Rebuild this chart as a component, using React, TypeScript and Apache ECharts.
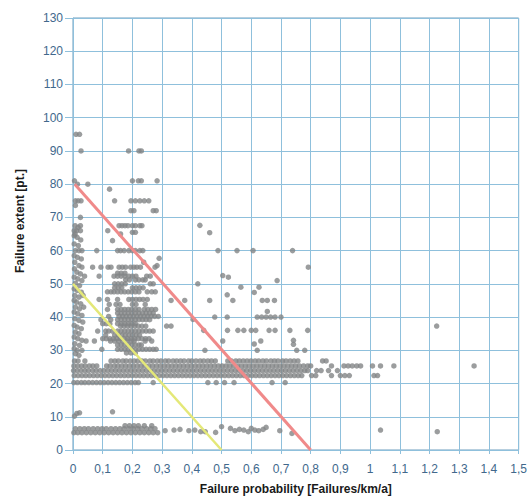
import React, { useEffect, useRef } from "react";
import * as echarts from "echarts";

// Axis ranges / ticks
const xTicks = { min: 0, max: 1.5, step: 0.1 };
const yTicks = { min: 0, max: 130, step: 10 };

// Threshold lines
const redLine: [number, number][] = [[0.006, 80], [0.8, 0]];
const yellowLine: [number, number][] = [[0, 50], [0.5, 0]];

// Dense horizontal band of points (y, x-values)
const bandRows: [number, number[]][] = [
  [26.8, [0.005, 0.017, 0.04, 0.128, 0.141, 0.153, 0.168, 0.179, 0.193, 0.206, 0.218, 0.232, 0.244, 0.259, 0.27, 0.284, 0.296, 0.311, 0.322, 0.337, 0.349, 0.362, 0.374, 0.389, 0.4, 0.414, 0.428, 0.44, 0.454, 0.466, 0.479, 0.521, 0.533, 0.548, 0.56, 0.573, 0.586, 0.599, 0.613, 0.625, 0.639, 0.651, 0.666, 0.678, 0.69, 0.705, 0.717, 0.731, 0.744, 0.757, 0.84, 0.852]],
  [25.3, [0.003, 0.016, 0.029, 0.041, 0.055, 0.067, 0.08, 0.113, 0.125, 0.139, 0.151, 0.164, 0.177, 0.19, 0.203, 0.216, 0.229, 0.242, 0.255, 0.268, 0.281, 0.294, 0.307, 0.32, 0.333, 0.346, 0.359, 0.372, 0.385, 0.398, 0.411, 0.424, 0.437, 0.45, 0.463, 0.476, 0.489, 0.502, 0.515, 0.528, 0.541, 0.554, 0.567, 0.58, 0.593, 0.606, 0.619, 0.632, 0.645, 0.658, 0.671, 0.684, 0.697, 0.71, 0.723, 0.736, 0.749, 0.762, 0.776, 0.79, 0.8, 0.87, 0.912, 0.926, 0.94, 0.955, 0.968, 1.008, 1.035, 1.08, 1.35]],
  [23.9, [0.002, 0.014, 0.027, 0.04, 0.052, 0.066, 0.078, 0.091, 0.104, 0.117, 0.13, 0.143, 0.156, 0.169, 0.182, 0.195, 0.208, 0.221, 0.234, 0.247, 0.26, 0.273, 0.286, 0.299, 0.312, 0.325, 0.338, 0.351, 0.364, 0.377, 0.39, 0.403, 0.416, 0.429, 0.442, 0.455, 0.468, 0.481, 0.494, 0.507, 0.52, 0.533, 0.546, 0.559, 0.572, 0.585, 0.598, 0.611, 0.624, 0.637, 0.65, 0.663, 0.676, 0.689, 0.702, 0.715, 0.728, 0.741, 0.754, 0.767, 0.78, 0.79, 0.82, 0.835, 0.86, 0.89]],
  [22.4, [0.004, 0.017, 0.03, 0.043, 0.056, 0.069, 0.082, 0.095, 0.108, 0.121, 0.134, 0.147, 0.16, 0.173, 0.186, 0.199, 0.212, 0.225, 0.238, 0.251, 0.264, 0.277, 0.29, 0.303, 0.316, 0.329, 0.342, 0.355, 0.368, 0.381, 0.394, 0.407, 0.42, 0.433, 0.446, 0.459, 0.472, 0.485, 0.498, 0.511, 0.524, 0.537, 0.55, 0.563, 0.576, 0.589, 0.602, 0.615, 0.628, 0.641, 0.654, 0.667, 0.68, 0.693, 0.706, 0.719, 0.732, 0.745, 0.758, 0.77, 0.803, 0.817, 0.87, 0.9, 0.915, 0.93, 1.013, 1.025]],
  [20.3, [0.003, 0.015, 0.028, 0.04, 0.053, 0.066, 0.079, 0.092, 0.105, 0.118, 0.131, 0.144, 0.157, 0.17, 0.183, 0.196, 0.209, 0.22, 0.27, 0.454, 0.482, 0.51, 0.542, 0.67, 0.714]],
];

// Cluster of points left of x = 0.3 (y, x-values)
const clusterRows: [number, number[]][] = [
  [60, [0.08, 0.15, 0.16, 0.172, 0.188, 0.2, 0.21, 0.225, 0.235]],
  [57.7, [0.29]],
  [56.5, [0.238]],
  [55.5, [0.283]],
  [55, [0.066, 0.094, 0.118, 0.128, 0.155, 0.166, 0.177, 0.194, 0.205, 0.215, 0.227, 0.276]],
  [53.2, [0.15, 0.162, 0.175]],
  [52.3, [0.039, 0.088, 0.138, 0.15, 0.162, 0.175, 0.188, 0.2, 0.212, 0.248, 0.26]],
  [51.2, [0.177, 0.19, 0.21, 0.222, 0.235, 0.243]],
  [50, [0.14, 0.152, 0.164, 0.176, 0.26, 0.27]],
  [48.8, [0.14, 0.152, 0.164, 0.2, 0.212, 0.224, 0.236]],
  [47.6, [0.116, 0.128, 0.138, 0.15, 0.162, 0.174, 0.186, 0.198, 0.21, 0.222, 0.25, 0.265, 0.277]],
  [45.3, [0.088, 0.116, 0.15, 0.188, 0.2, 0.212, 0.224, 0.236, 0.25]],
  [43.8, [0.122, 0.145, 0.158, 0.2, 0.212, 0.243]],
  [42.3, [0.116, 0.15, 0.162, 0.174, 0.186, 0.198, 0.21, 0.222, 0.24, 0.252, 0.265, 0.278]],
  [41.2, [0.15, 0.162, 0.174, 0.186, 0.198, 0.21, 0.222, 0.234, 0.246, 0.258, 0.27]],
  [40.2, [0.12, 0.155, 0.167, 0.179, 0.191, 0.203, 0.215, 0.227, 0.239, 0.251, 0.263, 0.275, 0.287]],
  [39.2, [0.094, 0.127, 0.15, 0.162, 0.174, 0.186, 0.198, 0.21, 0.222, 0.234, 0.246, 0.258]],
  [38, [0.1, 0.112, 0.124, 0.15, 0.162, 0.174, 0.186, 0.198, 0.21]],
  [37.3, [0.16, 0.172, 0.184, 0.196, 0.208, 0.22, 0.232, 0.245, 0.315, 0.33]],
  [35.8, [0.083, 0.11, 0.12, 0.133, 0.15, 0.162, 0.174, 0.186, 0.198, 0.21, 0.222, 0.234, 0.246, 0.258, 0.27]],
  [34.6, [0.11, 0.14, 0.152, 0.164, 0.176, 0.188, 0.2, 0.212, 0.224]],
  [33.5, [0.1, 0.112, 0.124, 0.136, 0.148, 0.16, 0.172, 0.184, 0.196, 0.208, 0.22, 0.232, 0.244, 0.256]],
  [32.8, [0.044, 0.072, 0.126, 0.14, 0.154, 0.168, 0.182, 0.196, 0.206, 0.243, 0.265]],
  [31.6, [0.15, 0.162, 0.174, 0.186, 0.198, 0.21, 0.222, 0.23]],
  [30.3, [0.097, 0.15, 0.162, 0.174, 0.186, 0.198, 0.21, 0.222, 0.234, 0.246, 0.258, 0.27, 0.28]],
  [29.2, [0.18, 0.195, 0.21]],
];

// Column of points close to x = 0
const columnNearZero: [number, number][] = [
  [0.01, 95], [0.022, 95], [0.027, 90], [0.005, 81], [0.015, 80], [0.05, 80],
  [0.008, 75], [0.017, 75], [0.027, 75], [0.008, 73.6], [0.025, 70],
  [0.007, 67.5], [0.017, 67], [0.025, 67.5], [0.004, 66], [0.012, 66], [0.025, 66], [0.007, 65],
  [0.004, 64.5], [0.014, 64], [0.026, 63.2], [0.004, 62], [0.018, 61.5], [0.008, 60], [0.02, 60], [0.03, 60],
  [0.004, 58.5], [0.015, 58], [0.028, 57.5], [0.006, 56.5], [0.02, 55.5], [0.03, 55], [0.005, 54.5], [0.013, 53.5], [0.025, 53],
  [0.004, 52], [0.016, 51.5], [0.03, 51], [0.008, 50.2], [0.022, 49.5], [0.004, 48.5], [0.014, 48], [0.028, 47.5],
  [0.006, 46.5], [0.02, 46], [0.034, 46.5], [0.004, 45], [0.012, 44.5], [0.026, 44], [0.008, 43], [0.022, 42.5], [0.036, 43],
  [0.004, 41.5], [0.016, 41], [0.03, 40.5], [0.006, 39.5], [0.02, 39], [0.033, 38.5], [0.004, 37.5], [0.014, 37], [0.028, 36.5],
  [0.008, 35.5], [0.02, 35], [0.004, 34], [0.016, 33.5], [0.03, 33], [0.006, 32], [0.022, 31.5], [0.004, 30.5], [0.014, 30],
  [0.03, 30], [0.008, 29], [0.02, 28.5],
];

// Low band around 6 and isolated points
const lowRows: [number, number[]][] = [
  [5.2, [0.003, 0.016, 0.03, 0.045, 0.06, 0.075, 0.09, 0.105, 0.12, 0.135, 0.15, 0.165, 0.18, 0.195, 0.21, 0.225, 0.24, 0.255, 0.27, 0.285]],
  [6.4, [0.008, 0.023, 0.038, 0.052, 0.068, 0.083, 0.098, 0.112, 0.128, 0.143, 0.158, 0.172, 0.188, 0.203, 0.218, 0.232, 0.248, 0.262, 0.276]],
  [7.3, [0.175, 0.19, 0.205, 0.22, 0.24, 0.265]],
];

const scatteredPoints: [number, number][] = [
  [0.123, 78.5], [0.14, 75], [0.187, 90], [0.222, 90], [0.23, 90],
  [0.2, 81], [0.22, 81], [0.23, 81], [0.283, 81],
  [0.195, 75], [0.21, 75], [0.225, 75], [0.24, 75], [0.255, 75],
  [0.195, 72], [0.205, 72], [0.27, 72], [0.28, 72],
  [0.155, 67.5], [0.165, 67.5], [0.175, 67.5], [0.185, 67.5], [0.2, 67.5], [0.21, 67.5], [0.225, 67.5], [0.232, 67.5],
  [0.117, 66], [0.16, 65], [0.2, 65.5], [0.21, 65.5], [0.133, 63],
  [0.427, 67.6], [0.46, 65.4],
  [0.488, 60], [0.552, 60], [0.606, 60], [0.739, 60], [0.792, 55],
  [0.504, 52.5], [0.523, 52], [0.687, 51], [0.42, 50], [0.565, 49], [0.626, 49], [0.61, 47.4], [0.519, 46.7],
  [0.46, 45], [0.538, 45], [0.637, 45], [0.654, 45], [0.678, 45], [0.33, 45], [0.376, 45],
  [0.654, 41.7], [0.404, 39.3], [0.477, 40], [0.519, 40], [0.62, 40], [0.635, 40], [0.65, 40], [0.665, 40], [0.68, 40], [0.7, 40],
  [0.44, 36], [0.52, 36], [0.555, 36], [0.575, 36], [0.6, 36], [0.615, 36], [0.66, 36], [0.68, 36], [0.73, 36], [0.79, 36],
  [0.504, 32.8], [0.61, 31.9], [0.632, 32.8], [0.742, 33], [0.742, 31.8],
  [0.444, 30], [0.62, 30], [0.753, 30], [0.78, 30],
  [1.224, 37.3],
  [0.005, 10.2], [0.013, 11], [0.022, 11.2], [0.133, 11.5],
  [0.31, 5.8], [0.34, 6], [0.36, 6.2], [0.39, 5.8], [0.41, 6], [0.43, 5.5], [0.445, 5.5], [0.48, 5.3], [0.5, 7],
  [0.53, 6.5], [0.545, 5.8], [0.56, 6.2], [0.575, 6], [0.59, 5.5], [0.6, 6.5], [0.612, 6], [0.625, 5.8], [0.64, 6.2], [0.65, 6.8],
  [0.696, 5.8], [0.737, 5], [1.035, 6], [1.226, 5.5],
];

const xAxisTitle = "Failure probability [Failures/km/a]";
const yAxisTitle = "Failure extent [pt.]";

function expandRows(rows: [number, number[]][]): [number, number][] {
  const out: [number, number][] = [];
  rows.forEach(([y, xs]) => xs.forEach((x) => out.push([x, y])));
  return out;
}

const gridColor = "#8fc0dc";
const labelColor = "#41688c";
const titleFont = "Liberation Sans, Arial";

export default function App() {
  const ref = useRef<HTMLDivElement>(null);
  useEffect(() => {
    if (!ref.current) return;
    const chart = echarts.init(ref.current, undefined, { renderer: "svg" });
    const points = [
      ...expandRows(bandRows),
      ...expandRows(clusterRows),
      ...columnNearZero,
      ...expandRows(lowRows),
      ...scatteredPoints,
    ];
    chart.setOption({
      animation: false,
      backgroundColor: "#ffffff",
      grid: {
        left: 73,
        right: 5,
        top: 18,
        bottom: 47,
        show: true,
        borderColor: "#6f9fbf",
        borderWidth: 1,
      },
      graphic: [
        {
          type: "text",
          x: 20,
          y: 221,
          rotation: Math.PI / 2,
          style: {
            text: yAxisTitle,
            fontFamily: titleFont,
            fontSize: 12,
            fontWeight: "bold",
            fill: "#1a1a1a",
            textAlign: "center",
            textVerticalAlign: "middle",
          },
        },
      ],
      xAxis: {
        type: "value",
        min: xTicks.min,
        max: xTicks.max,
        interval: xTicks.step,
        name: xAxisTitle,
        nameLocation: "middle",
        nameGap: 33,
        nameTextStyle: { fontFamily: titleFont, fontSize: 12, fontWeight: "bold", color: "#1a1a1a" },
        axisLine: { show: true, lineStyle: { color: gridColor } },
        axisTick: { show: true, length: 4, lineStyle: { color: gridColor } },
        splitLine: { show: true, lineStyle: { color: gridColor, width: 1 } },
        axisLabel: {
          margin: 13,
          color: labelColor,
          fontFamily: titleFont,
          fontSize: 12,
          formatter: (v: number) => String(Math.round(v * 10) / 10).replace(".", ","),
        },
      },
      yAxis: {
        type: "value",
        min: yTicks.min,
        max: yTicks.max,
        interval: yTicks.step,
        axisLine: { show: true, lineStyle: { color: gridColor } },
        axisTick: { show: true, length: 8, lineStyle: { color: gridColor } },
        splitLine: { show: true, lineStyle: { color: gridColor, width: 1 } },
        axisLabel: {
          margin: 10,
          color: labelColor,
          fontFamily: titleFont,
          fontSize: 12,
        },
      },
      series: [
        {
          type: "scatter",
          data: points,
          symbolSize: 5.5,
          itemStyle: { color: "#828486" },
          z: 2,
        },
        {
          type: "line",
          data: redLine,
          symbol: "none",
          lineStyle: { color: "#f08a8a", width: 3 },
          z: 3,
        },
        {
          type: "line",
          data: yellowLine,
          symbol: "none",
          lineStyle: { color: "#e4e878", width: 2.5 },
          z: 3,
        },
      ],
    });
    return () => chart.dispose();
  }, []);
  return (
    <div
      ref={ref}
      style={{ position: "fixed", left: 0, top: 0, width: 530, height: 500, background: "#fff" }}
    />
  );
}
